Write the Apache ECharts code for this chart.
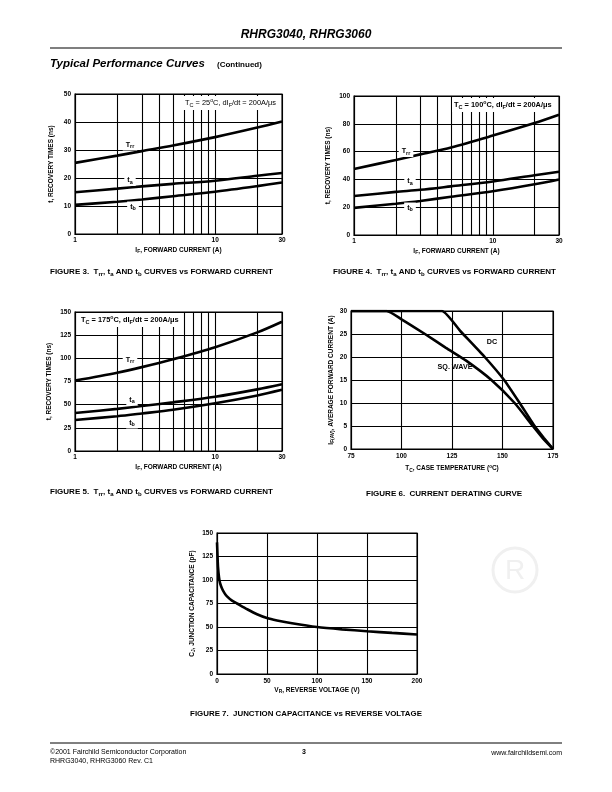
<!DOCTYPE html>
<html><head><meta charset="utf-8">
<script src="https://cdn.jsdelivr.net/npm/echarts@6/dist/echarts.min.js"></script>
<style>html,body{margin:0;padding:0;background:#fff}#c{width:612px;height:792px}</style>
</head><body><div id="c"></div>
<script>
// ---------- data ----------
const currents = [1, 2, 3, 5, 10, 20, 30];
const fig3Trr = [25.4, 28.0, 29.6, 31.6, 34.6, 38.0, 40.2];
const fig3Ta  = [14.9, 16.2, 17.0, 17.9, 19.0, 20.8, 21.8];
const fig3Tb  = [10.4, 11.5, 12.3, 13.5, 15.1, 17.1, 18.4];
const fig4Trr = [47.5, 54.0, 58.0, 63.0, 71.5, 80.5, 86.5];
const fig4Ta  = [28.0, 31.0, 32.5, 35.0, 38.5, 43.0, 45.5];
const fig4Tb  = [19.5, 22.5, 24.5, 27.5, 31.5, 36.5, 40.0];
const fig5Trr = [76.0, 84.5, 90.5, 99.0, 112.0, 128.0, 139.5];
const fig5Ta  = [41.0, 45.5, 48.5, 52.5, 58.5, 66.5, 72.0];
const fig5Tb  = [33.5, 37.5, 40.5, 44.5, 51.5, 60.0, 66.0];
const minorCurrents = [2, 3, 4, 5, 6, 7, 8, 9, 20];

const fig6DcTemp = [75, 120, 129.2, 141.2, 150.8, 158.5, 165.9, 170.5, 175];
const fig6DcAmps = [30, 30, 25.6, 20, 15, 10, 5, 2.4, 0];
const fig6SqTemp = [75, 92.6, 100, 111.6, 122, 132, 144.5, 156, 165, 170, 175];
const fig6SqAmps = [30, 30, 28.2, 25, 22, 19.2, 15, 10, 5, 2.3, 0];

const fig7Volts = [0, 0.5, 1, 2, 3, 5, 7.5, 10, 15, 20, 30, 40, 50, 60, 75, 100, 125, 150, 175, 200];
const fig7Cap   = [140, 126, 114, 103, 97, 91, 86, 82.5, 78, 75, 69, 63.5, 59.5, 57, 54, 50, 47.5, 45.5, 43.7, 42];

// ---------- helpers ----------
const F = '"Liberation Sans", Arial, Helvetica, sans-serif';
const pair = (xs, ys) => xs.map((x, i) => [x, ys[i]]);
function richSet(size, weight) {
  return {
    s: {fontSize: size * 0.75, fontFamily: F, fontWeight: weight, fill: '#000', color: '#000', padding: [size * 0.55, 0, 0, 0]},
    p: {fontSize: size * 0.7, fontFamily: F, fontWeight: weight, fill: '#000', color: '#000', padding: [0, 0, size * 0.6, 0]},
    n: {fontSize: size, fontFamily: F, fontWeight: weight, fill: '#000', color: '#000'}
  };
}
const labelStyle = {color: '#000', fontFamily: F, fontSize: 6.5, fontWeight: 'bold'};
const nameStyle = {color: '#000', fontFamily: F, fontSize: 6.5, fontWeight: 'bold', rich: richSet(6.5, 'bold')};
const blackLine = {lineStyle: {color: '#000', width: 1.1}};

function logX(gi) {
  return {type: 'log', logBase: 10, gridIndex: gi, min: 1, max: 30,
    name: 'I{s|F}, FORWARD CURRENT (A)', nameLocation: 'middle', nameGap: 12, nameTextStyle: nameStyle,
    axisLine: {show: true, ...blackLine}, axisTick: {show: false},
    splitLine: {show: true, ...blackLine},
    axisLabel: {...labelStyle, margin: 3, formatter: v => String(Math.round(v))}};
}
function valX(gi, min, max, interval, name, gap) {
  return {type: 'value', gridIndex: gi, min, max, interval,
    name, nameLocation: 'middle', nameGap: gap, nameTextStyle: nameStyle,
    axisLine: {show: true, ...blackLine}, axisTick: {show: false},
    splitLine: {show: true, ...blackLine},
    axisLabel: {...labelStyle, margin: 4}};
}
function valY(gi, max, interval, name, gap) {
  return {type: 'value', gridIndex: gi, min: 0, max, interval,
    name, nameLocation: 'middle', nameGap: gap, nameRotate: 90, nameTextStyle: nameStyle,
    axisLine: {show: true, ...blackLine}, axisTick: {show: false},
    splitLine: {show: true, ...blackLine},
    axisLabel: {...labelStyle, margin: 4}};
}
function curve(xi, data, extra) {
  return Object.assign({type: 'line', xAxisIndex: xi, yAxisIndex: xi, data, showSymbol: false,
    smooth: 0.3, lineStyle: {color: '#000', width: 2.6}, silent: true, animation: false, z: 5}, extra || {});
}
function minorLines() {
  return {markLine: {silent: true, animation: false, symbol: ['none', 'none'], label: {show: false},
    lineStyle: {color: '#000', width: 1.1, type: 'solid'},
    data: minorCurrents.map(v => ({xAxis: v}))}};
}
function txt(x, y, text, size, opts) {
  opts = opts || {};
  const weight = opts.weight || 'bold';
  const st = {text, x: 0, y: 0, fill: opts.color || '#000',
    fontFamily: F, fontSize: size, fontWeight: weight, fontStyle: opts.italic ? 'italic' : 'normal',
    align: opts.align || 'left', textAlign: opts.align || 'left',
    verticalAlign: 'middle', textVerticalAlign: 'middle',
    rich: richSet(size, weight)};
  if (opts.bg) { st.backgroundColor = '#fff'; st.padding = opts.pad || [1, 2]; }
  return {type: 'text', x, y, z: 100, silent: true, style: st};
}
function hline(x1, x2, y, w) {
  return {type: 'line', z: 100, silent: true, shape: {x1, y1: y, x2, y2: y}, style: {stroke: '#000', lineWidth: w || 1}};
}

const grids = [
  {left: 75, top: 94, width: 207, height: 140},
  {left: 354, top: 96, width: 205, height: 139},
  {left: 75, top: 312, width: 207, height: 139},
  {left: 351, top: 311, width: 202, height: 138},
  {left: 217, top: 533, width: 200, height: 141}
].map(g => Object.assign({show: true, borderColor: '#000', borderWidth: 1.1, backgroundColor: 'transparent'}, g));

const option = {
  animation: false,
  backgroundColor: '#fff',
  grid: grids,
  xAxis: [
    logX(0), logX(1), logX(2),
    valX(3, 75, 175, 25, 'T{s|C}, CASE TEMPERATURE ({p|o}C)', 15),
    valX(4, 0, 200, 50, 'V{s|R}, REVERSE VOLTAGE (V)', 12)
  ],
  yAxis: [
    valY(0, 50, 10, 't, RECOVERY TIMES (ns)', 20),
    valY(1, 100, 20, 't, RECOVERY TIMES (ns)', 22),
    valY(2, 150, 25, 't, RECOVERY TIMES (ns)', 22),
    valY(3, 30, 5, 'I{s|F(AV)}, AVERAGE FORWARD CURRENT (A)', 16),
    valY(4, 150, 25, 'C{s|J}, JUNCTION CAPACITANCE (pF)', 21)
  ],
  series: [
    curve(0, pair(currents, fig3Trr), minorLines()),
    curve(0, pair(currents, fig3Ta)),
    curve(0, pair(currents, fig3Tb)),
    curve(1, pair(currents, fig4Trr), minorLines()),
    curve(1, pair(currents, fig4Ta)),
    curve(1, pair(currents, fig4Tb)),
    curve(2, pair(currents, fig5Trr), minorLines()),
    curve(2, pair(currents, fig5Ta)),
    curve(2, pair(currents, fig5Tb)),
    curve(3, pair(fig6DcTemp, fig6DcAmps), {smooth: 0.15}),
    curve(3, pair(fig6SqTemp, fig6SqAmps), {smooth: 0.2}),
    curve(4, pair(fig7Volts, fig7Cap), {smooth: 0.25})
  ],
  graphic: [
    // watermark ®
    {type: 'circle', z: 0, silent: true, shape: {cx: 515, cy: 570, r: 22}, style: {fill: 'none', stroke: '#f0f0f0', lineWidth: 3}},
    {type: 'text', z: 0, silent: true, x: 515, y: 571, style: {text: 'R', fill: '#f0f0f0', fontFamily: F, fontSize: 28, align: 'center', verticalAlign: 'middle', textAlign: 'center', textVerticalAlign: 'middle'}},
    // header
    txt(306, 35, 'RHRG3040, RHRG3060', 12, {italic: true, align: 'center'}),
    hline(50, 562, 48, 1.2),
    txt(50, 64, 'Typical Performance Curves', 11.5, {italic: true}),
    txt(217, 65, '(Continued)', 8),
    // annotations
    txt(183, 103, 'T{s|C} = 25{p|o}C, dI{s|F}/dt = 200A/μs', 7.4, {bg: true, weight: 'normal', pad: [2, 3, 2, 2]}),
    txt(452, 105, 'T{s|C} = 100{p|o}C, dI{s|F}/dt = 200A/μs', 7.4, {bg: true, pad: [2, 3, 2, 2]}),
    txt(79, 320, 'T{s|C} = 175{p|o}C, dI{s|F}/dt = 200A/μs', 7.4, {bg: true, pad: [2, 3, 2, 2]}),
    // curve labels
    txt(130, 145, 'T{s|rr}', 7.2, {bg: true, align: 'center', pad: [1, 3]}),
    txt(130, 180.5, 't{s|a}', 7.2, {bg: true, align: 'center', pad: [1, 3]}),
    txt(133, 207, 't{s|b}', 7.2, {bg: true, align: 'center', pad: [1, 3]}),
    txt(406, 151.5, 'T{s|rr}', 7.2, {bg: true, align: 'center', pad: [1, 3]}),
    txt(410, 181.5, 't{s|a}', 7.2, {bg: true, align: 'center', pad: [1, 3]}),
    txt(410, 208, 't{s|b}', 7.2, {bg: true, align: 'center', pad: [1, 3]}),
    txt(130, 360, 'T{s|rr}', 7.2, {bg: true, align: 'center', pad: [1, 3]}),
    txt(132, 400, 't{s|a}', 7.2, {bg: true, align: 'center', pad: [1, 3]}),
    txt(132, 423, 't{s|b}', 7.2, {bg: true, align: 'center', pad: [1, 3]}),
    txt(492, 342, 'DC', 7.2, {align: 'center'}),
    txt(455, 367, 'SQ. WAVE', 7.2, {align: 'center'}),
    // captions
    txt(50, 272, 'FIGURE 3.  T{s|rr}, t{s|a} AND t{s|b} CURVES vs FORWARD CURRENT', 8),
    txt(333, 272, 'FIGURE 4.  T{s|rr}, t{s|a} AND t{s|b} CURVES vs FORWARD CURRENT', 8),
    txt(50, 492, 'FIGURE 5.  T{s|rr}, t{s|a} AND t{s|b} CURVES vs FORWARD CURRENT', 8),
    txt(366, 494, 'FIGURE 6.  CURRENT DERATING CURVE', 8),
    txt(306, 714, 'FIGURE 7.  JUNCTION CAPACITANCE vs REVERSE VOLTAGE', 7.9, {align: 'center'}),
    // footer
    hline(50, 562, 743, 1),
    txt(50, 752, '©2001 Fairchild Semiconductor Corporation', 7, {weight: 'normal'}),
    txt(50, 761, 'RHRG3040, RHRG3060 Rev. C1', 7, {weight: 'normal'}),
    txt(304, 752, '3', 7, {weight: 'bold', align: 'center'}),
    txt(562, 753, 'www.fairchildsemi.com', 7, {weight: 'normal', align: 'right'})
  ]
};
const chart = echarts.init(document.getElementById('c'), null, {renderer: 'canvas', width: 612, height: 792});
chart.setOption(option);
</script>
</body></html>
